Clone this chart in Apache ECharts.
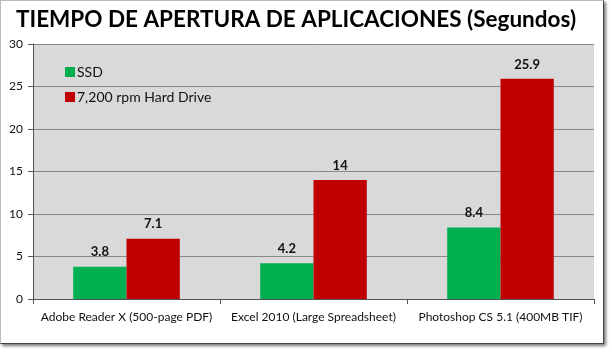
<!DOCTYPE html>
<html>
<head>
<meta charset="utf-8">
<script src="https://cdn.jsdelivr.net/npm/echarts@6/dist/echarts.min.js"></script>
<style>
  html, body { margin: 0; padding: 0; background: #fff; }
  #frame {
    position: absolute; left: 0; top: 0;
    width: 602px; height: 342px;
    border: 1px solid #bbb;
    border-right-color: #444; border-bottom-color: #444;
    box-shadow: 2px 2px 3px #777;
  }
  #chart { position: absolute; left: 0; top: 0; width: 612px; height: 354px; }
</style>
</head>
<body>
<div id="frame"></div>
<div id="chart"></div>
<script>
// 分类与数据
const categories = [
  'Adobe Reader X (500-page PDF)',
  'Excel 2010 (Large Spreadsheet)',
  'Photoshop CS 5.1 (400MB TIF)',
];
const ssdValues = [3.8, 4.2, 8.4];
const hddValues = [7.1, 14, 25.9];
const seriesNames = ['SSD', '7,200 rpm Hard Drive'];
const titleText = 'TIEMPO DE APERTURA DE APLICACIONES (Segundos)';

const font = 'Lato, "Open Sans", sans-serif';
const chart = echarts.init(document.getElementById('chart'));

const labelStyle = {
  show: true,
  position: 'top',
  distance: 8,
  fontFamily: font,
  fontWeight: 'bold',
  fontSize: 13,
  color: '#111',
};

chart.setOption({
  animation: false,
  title: {
    text: titleText,
    left: 11,
    top: 3,
    textStyle: { fontFamily: font, fontSize: 22.5, fontWeight: 'bold', color: '#000' },
  },
  legend: {
    orient: 'vertical',
    left: 60,
    top: 60,
    itemWidth: 10,
    itemHeight: 10,
    itemGap: 11,
    icon: 'rect',
    textStyle: { fontFamily: font, fontSize: 14, color: '#111', padding: [0, 0, 0, -3] },
    data: seriesNames,
  },
  grid: { left: 33, right: 18, top: 44, bottom: 55, containLabel: false },
  xAxis: {
    type: 'category',
    data: categories,
    axisLine: { lineStyle: { color: '#555' } },
    axisTick: { show: true, length: 5, lineStyle: { color: '#555' } },
    axisLabel: {
      fontFamily: font, fontSize: 12, color: '#111', margin: 12,
      interval: 0, hideOverlap: false,
    },
  },
  yAxis: {
    type: 'value',
    min: 0,
    max: 30,
    interval: 5,
    axisLine: { show: true, lineStyle: { color: '#555' } },
    axisTick: { show: true, length: 5, lineStyle: { color: '#555' } },
    axisLabel: { fontFamily: font, fontSize: 12, color: '#111', margin: 10 },
    splitLine: { show: true, lineStyle: { color: '#888' } },
  },
  series: [
    {
      name: seriesNames[0],
      type: 'bar',
      data: ssdValues,
      itemStyle: { color: '#00b050' },
      barGap: '0%',
      barCategoryGap: '43%',
      label: labelStyle,
    },
    {
      name: seriesNames[1],
      type: 'bar',
      data: hddValues,
      itemStyle: { color: '#c00000' },
      barGap: '0%',
      barCategoryGap: '43%',
      label: labelStyle,
    },
  ],
});

// 绘图区背景
const rect = chart.getModel().getComponent('grid').coordinateSystem.getRect();
chart.setOption({
  graphic: [{
    type: 'rect',
    z: -10,
    silent: true,
    shape: { x: rect.x, y: rect.y, width: rect.width, height: rect.height },
    style: { fill: '#d9d9d9' },
  }],
});
</script>
</body>
</html>
